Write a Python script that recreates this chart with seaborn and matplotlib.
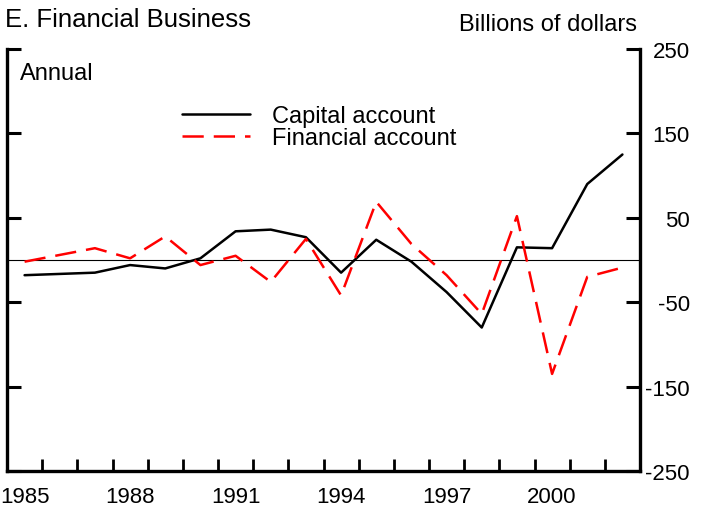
import numpy as np
import pandas as pd
import matplotlib
matplotlib.use("Agg")
import matplotlib.pyplot as plt
import seaborn as sns

years = list(range(1985, 2003))
capital = [-18, -16.5, -15, -6, -10, 2, 34, 36, 27, -15, 24, -2, -38, -80, 15, 14, 90, 125]
financial = [-2, 6, 14, 2, 28, -6, 5, -26, 25, -42, 69, 19, -18, -64, 52, -135, -20, -9]
series_names = ["Capital account", "Financial account"]
x_label_years = [1985, 1988, 1991, 1994, 1997, 2000]
y_ticks = [250, 150, 50, -50, -150, -250]

sns.set_style("ticks")
plt.rcParams["font.family"] = ["Liberation Sans", "DejaVu Sans"]
plt.rcParams["text.color"] = "black"
plt.rcParams["axes.edgecolor"] = "black"
plt.rcParams["xtick.color"] = "black"
plt.rcParams["ytick.color"] = "black"

df = pd.DataFrame({
    "year": years * 2,
    "value": capital + financial,
    "series": [series_names[0]] * len(years) + [series_names[1]] * len(years),
})

fig = plt.figure(figsize=(7.05, 5.10), dpi=100)
ax = fig.add_axes([7 / 705, 38 / 510, (640 - 7) / 705, (472 - 50) / 510])

sns.lineplot(data=df, x="year", y="value", hue="series", style="series",
             palette={series_names[0]: "black", series_names[1]: "#ff0000"},
             dashes={series_names[0]: "", series_names[1]: (8.5, 4)},
             linewidth=1.8, legend=False, ax=ax)
handles = ax.get_lines()[:2]
ax.axhline(0, color="black", lw=0.8, zorder=1)

ax.set_xlim(1984.5, 2002.5)
ax.set_ylim(-250, 250)
ax.set_xlabel("")
ax.set_ylabel("")

# x: ticks at year boundaries, labels centred on years
ax.set_xticks(np.arange(1985.5, 2002.0, 1.0))
ax.set_xticklabels([])
ax.set_xticks(x_label_years, minor=True)
ax.set_xticklabels([str(y) for y in x_label_years], minor=True)
ax.tick_params(axis="x", which="major", direction="in", length=9, width=2, top=False)
ax.tick_params(axis="x", which="minor", length=0, pad=11, labelsize=16)

ax.set_yticks(y_ticks)
ax.set_yticklabels([str(v) for v in y_ticks])
ax.tick_params(axis="y", direction="in", length=10, width=2.2, left=True, right=True,
               labelleft=False, labelright=True, pad=36, labelsize=16)
for t in ax.yaxis.get_major_ticks():
    t.label2.set_horizontalalignment("right")

ax.spines["top"].set_visible(False)
for s in ["left", "right", "bottom"]:
    ax.spines[s].set_linewidth(2.4)

ax.legend(handles, series_names, loc="upper left",
          bbox_to_anchor=(182 / 705, 1 - 106 / 510), bbox_transform=fig.transFigure,
          frameon=False, fontsize=17, handlelength=2.9, handletextpad=0.9,
          labelspacing=0.0, borderpad=0, borderaxespad=0)

fig.text(5 / 705, 1 - 20 / 510, "E. Financial Business", fontsize=18.5, va="center", ha="left")
fig.text(637 / 705, 1 - 25 / 510, "Billions of dollars", fontsize=17, va="center", ha="right")
fig.text(20 / 705, 1 - 74 / 510, "Annual", fontsize=17, va="center", ha="left")

fig.savefig("out.png", dpi=100)
